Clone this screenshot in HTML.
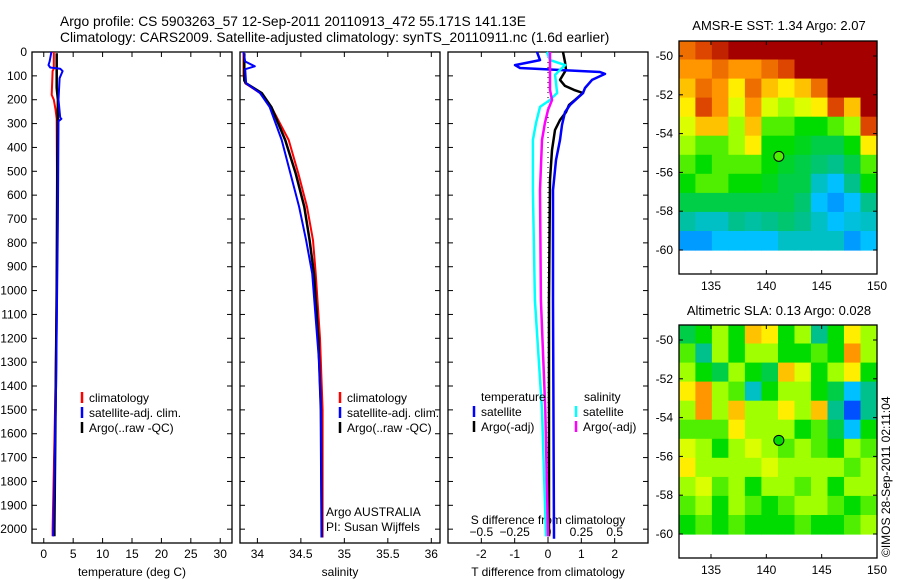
<!DOCTYPE html>
<html><head><meta charset="utf-8"><style>
body{margin:0;background:#fff;}
svg{display:block;font-family:"Liberation Sans",sans-serif;}
text{font-size:12px;fill:#000;}
text.ttl{font-size:13.8px;}
text.mttl{font-size:13px;}
</style></head><body>
<svg id="fig" width="900" height="580" viewBox="0 0 900 580">
<text class="ttl" x="60" y="26">Argo profile: CS 5903263_57 12-Sep-2011 20110913_472 55.171S 141.13E</text>
<text class="ttl" x="60" y="42">Climatology: CARS2009. Satellite-adjusted climatology: synTS_20110911.nc (1.6d earlier)</text>
<text class="mttl" x="779" y="30" text-anchor="middle">AMSR-E SST: 1.34 Argo: 2.07</text>
<text class="mttl" x="779" y="315" text-anchor="middle">Altimetric SLA: 0.13 Argo: 0.028</text>
<text transform="translate(890,557) rotate(-90)">©IMOS 28-Sep-2011 02:11:04</text>
<g id="g"></g>
</svg>
<script>
// ---- data ----
const depthTicks=[0,100,200,300,400,500,600,700,800,900,1000,1100,1200,1300,1400,1500,1600,1700,1800,1900,2000];
const tempTicks=[0,5,10,15,20,25,30];
const salTicks=[34,34.5,35,35.5,36];
const salTickLabels=["34","34.5","35","35.5","36"];
const tdiffTicks=[-2,-1,0,1,2];
const sdiffTicks=[-0.5,-0.25,0,0.25,0.5];
const lonTicks=[135,140,145,150];
const latTicks=[-50,-52,-54,-56,-58,-60];

const tClimDepth=[0,70,80,180,200,240,280,800,1400,2000,2030];
const tClim=[1.7,1.7,1.5,1.35,1.7,2.0,2.2,2.3,2.0,1.5,1.5];
const tSatDepth=[0,40,55,65,70,80,110,200,275,280,290,700,1400,2030];
const tSat=[1.3,1.0,0.8,1.1,2.8,3.2,2.7,2.5,2.8,3.0,2.5,2.4,2.1,1.6];
const tArgoDepth=[5,150,200,450,1000,2000,2030];
const tArgo=[2.2,2.2,2.4,2.3,2.2,1.8,1.8];

const sClimDepth=[0,100,131,172,230,369,509,649,789,928,1200,1500,2035];
const sClim=[33.84,33.84,33.86,34.03,34.16,34.36,34.47,34.57,34.64,34.67,34.72,34.75,34.75];
const sSatDepth=[0,40,60,72,131,172,230,369,509,649,789,928,1300,1500,2035];
const sSat=[33.84,33.86,33.97,33.86,33.87,34.03,34.14,34.28,34.38,34.48,34.56,34.63,34.71,34.73,34.74];
const sArgoDepth=[5,120,131,172,230,369,509,649,789,928,1200,1500,2035];
const sArgo=[33.85,33.85,33.87,34.05,34.16,34.32,34.44,34.54,34.6,34.65,34.7,34.73,34.74];

const dTSatDepth=[0,34,55,67,84,92,117,151,172,222,252,306,369,453,579,1040,2040];
const dTSat=[-0.33,-0.24,-0.99,-0.84,1.56,1.71,1.32,1.11,1.05,0.66,0.51,0.42,0.36,0.24,0.15,0.15,0.18];
const dTArgoDepth=[0,42,75,117,142,159,172,201,222,252,285,327,411,537,1040,2030];
const dTArgo=[0.45,0.51,0.54,0.36,0.51,0.78,1.05,0.81,0.63,0.54,0.36,0.21,0.12,0.06,0.03,0.03];
const dSSatDepth=[0,34,55,75,96,130,172,201,230,298,369,579,1040,1500,2030];
const dSSat=[-0.008,0.015,0.128,0.09,0.053,0.06,0.068,0.015,-0.06,-0.09,-0.113,-0.113,-0.098,-0.045,-0.015];
const dSArgoDepth=[0,159,201,243,298,369,579,1040,1500,2030];
const dSArgo=[0.015,0.015,0.03,0,-0.023,-0.045,-0.06,-0.053,-0.02,0];

const sstGrid=[
[0.85,0.9,0.95,1,1,1,1,1,1,1,1,1],
[0.8,0.8,0.85,0.8,0.8,0.85,0.9,1,1,1,1,1],
[0.75,0.85,0.8,0.7,0.85,0.75,0.7,0.75,0.85,1,1,1],
[0.7,0.9,0.8,0.65,0.8,0.65,0.6,0.65,0.7,0.9,0.75,1],
[0.65,0.75,0.75,0.6,0.75,0.55,0.55,0.5,0.5,0.55,0.6,0.9],
[0.6,0.55,0.55,0.6,0.7,0.5,0.5,0.48,0.45,0.45,0.5,0.7],
[0.55,0.5,0.55,0.55,0.55,0.5,0.47,0.45,0.42,0.4,0.45,0.55],
[0.5,0.55,0.55,0.5,0.5,0.48,0.45,0.45,0.35,0.3,0.4,0.5],
[0.45,0.45,0.45,0.45,0.45,0.45,0.45,0.42,0.3,0.25,0.3,0.4],
[0.38,0.35,0.35,0.4,0.38,0.4,0.42,0.4,0.35,0.3,0.33,0.35],
[0.25,0.25,0.3,0.3,0.3,0.3,0.35,0.35,0.35,0.35,0.25,0.3]];
const slaGrid=[
[0.45,0.5,0.6,0.5,0.75,0.7,0.5,0.6,0.4,0.5,0.7,0.6],
[0.55,0.4,0.6,0.5,0.6,0.6,0.5,0.5,0.55,0.5,0.8,0.6],
[0.6,0.5,0.45,0.6,0.5,0.45,0.75,0.65,0.5,0.6,0.7,0.5],
[0.7,0.8,0.6,0.55,0.35,0.5,0.6,0.6,0.5,0.45,0.3,0.4],
[0.6,0.8,0.6,0.75,0.6,0.6,0.7,0.6,0.75,0.4,0.15,0.4],
[0.55,0.55,0.55,0.7,0.6,0.6,0.6,0.5,0.55,0.45,0.3,0.5],
[0.65,0.6,0.5,0.6,0.65,0.6,0.55,0.6,0.55,0.5,0.6,0.55],
[0.7,0.6,0.6,0.6,0.6,0.65,0.6,0.6,0.6,0.6,0.55,0.6],
[0.6,0.65,0.55,0.6,0.5,0.6,0.6,0.55,0.6,0.5,0.6,0.6],
[0.55,0.6,0.5,0.6,0.55,0.5,0.55,0.6,0.6,0.55,0.5,0.55],
[0.5,0.55,0.5,0.55,0.5,0.5,0.5,0.55,0.5,0.5,0.55,0.6]];
const argoLon=141.13, argoLat=-55.171;

// ---- drawing ----
const NS="http://www.w3.org/2000/svg";
const G=document.getElementById('g');
function mk(tag,attrs,parent){const e=document.createElementNS(NS,tag);for(const k in attrs)e.setAttribute(k,attrs[k]);(parent||G).appendChild(e);return e;}
const TOP=52,BOT=543,DMAX=2058;
const yD=d=>TOP+d/DMAX*(BOT-TOP);
function lin(d0,d1,r0,r1){return v=>r0+(v-d0)/(d1-d0)*(r1-r0);}
const P=[{x0:32,x1:232},{x0:240,x1:440},{x0:448,x1:648}];
const xT=lin(-2,32,32,232), xS=lin(33.8,36.1,240,440), xdT=lin(-3,3,448,648), xdS=lin(-0.75,0.75,448,648);

function txt(x,y,s,anchor,name){const t=mk('text',{x:x,y:y,'text-anchor':anchor||'start'});t.textContent=s;

return t;}

P.forEach((p,i)=>{
  const r=mk('rect',{x:p.x0,y:TOP,width:p.x1-p.x0,height:BOT-TOP,fill:'none',stroke:'#000','stroke-width':1.3});
  
  
  depthTicks.forEach(d=>{const y=yD(d);
    mk('line',{x1:p.x0,x2:p.x0+5,y1:y,y2:y,stroke:'#000'});mk('line',{x1:p.x1-5,x2:p.x1,y1:y,y2:y,stroke:'#000'});});
});
depthTicks.forEach(d=>txt(27,yD(d)+4,String(d),'end','depth-tick-label'));
function xticks(p,vals,sc,labels,ly,name){vals.forEach((v,i)=>{const x=sc(v);
  mk('line',{x1:x,x2:x,y1:TOP,y2:TOP+5,stroke:'#000'});mk('line',{x1:x,x2:x,y1:BOT-5,y2:BOT,stroke:'#000'});
  txt(x,ly,labels?labels[i]:String(v),'middle',name);});}
xticks(P[0],tempTicks,xT,null,558,'temperature-tick-label');
xticks(P[1],salTicks,xS,salTickLabels,558,'salinity-tick-label');
xticks(P[2],tdiffTicks,xdT,null,558,'tdiff-tick-label');
sdiffTicks.forEach(v=>txt(xdS(v),536,String(v).replace('-0.','−0.'),'middle','sdiff-tick-label'));
txt(132,576,'temperature (deg C)','middle','x-axis-title-temperature');
txt(340,576,'salinity','middle','x-axis-title-salinity');
txt(548,576,'T difference from climatology','middle','x-axis-title-tdiff');
txt(548,524,'S difference from climatology','middle','s-diff-axis-title');
const zl=mk('line',{x1:xdT(0),x2:xdT(0),y1:TOP,y2:BOT,stroke:'#000','stroke-dasharray':'1,4'});



function series(depths,vals,sc,color,w,name){
  const pts=depths.map((d,i)=>sc(vals[i]).toFixed(1)+','+yD(d).toFixed(1)).join(' ');
  const e=mk('polyline',{points:pts,fill:'none',stroke:color,'stroke-width':w,'stroke-linejoin':'round'});
  
  
}
series(tClimDepth,tClim,xT,'#f00',2,'temp-climatology-line');
series(tArgoDepth,tArgo,xT,'#000',2.5,'temp-argo-line');
series(tSatDepth,tSat,xT,'#00f',2,'temp-satellite-line');
series(sClimDepth,sClim,xS,'#f00',2,'salinity-climatology-line');
series(sArgoDepth,sArgo,xS,'#000',2.5,'salinity-argo-line');
series(sSatDepth,sSat,xS,'#00f',2,'salinity-satellite-line');
series(dTArgoDepth,dTArgo,xdT,'#000',2.5,'tdiff-argo-line');
series(dTSatDepth,dTSat,xdT,'#00f',2.5,'tdiff-satellite-line');
series(dSSatDepth,dSSat,xdS,'#0ff',2.5,'sdiff-satellite-line');
series(dSArgoDepth,dSArgo,xdS,'#f0f',2.5,'sdiff-argo-line');

function legEntry(x,y,color,label,name){mk('line',{x1:x,x2:x,y1:y-10,y2:y+1,stroke:color,'stroke-width':2.5});txt(x+7,y,label,'start',name);}
[[82,'#f00','climatology'],[82,'#00f','satellite-adj. clim.'],[82,'#000','Argo(..raw -QC)']].forEach((e,i)=>legEntry(e[0],402+i*15,e[1],e[2],'temperature-legend-entry'));
[[340,'#f00','climatology'],[340,'#00f','satellite-adj. clim.'],[340,'#000','Argo(..raw -QC)']].forEach((e,i)=>legEntry(e[0],402+i*15,e[1],e[2],'salinity-legend-entry'));
txt(481,401,'temperature','start','diff-legend-temperature-header');
txt(584,401,'salinity','start','diff-legend-salinity-header');
legEntry(474,416,'#00f','satellite','diff-legend-entry');
legEntry(474,431,'#000','Argo(-adj)','diff-legend-entry');
legEntry(576,416,'#0ff','satellite','diff-legend-entry');
legEntry(576,431,'#f0f','Argo(-adj)','diff-legend-entry');
txt(326,516,'Argo AUSTRALIA','start','argo-agency-label');
txt(326,531,'PI: Susan Wijffels','start','pi-label');

// ---- maps ----
const stops=[[0,[0,0,160]],[0.15,[0,80,255]],[0.3,[0,192,255]],[0.4,[0,192,140]],[0.5,[0,220,0]],[0.6,[160,255,0]],[0.68,[255,255,0]],[0.8,[255,150,0]],[0.9,[220,70,0]],[1,[165,0,0]]];
function cmap(v){for(let i=1;i<stops.length;i++){if(v<=stops[i][0]){const a=stops[i-1],b=stops[i],t=(v-a[0])/(b[0]-a[0]);
 return 'rgb('+a[1].map((c,k)=>Math.round(c+t*(b[1][k]-c))).join(',')+')';}}return 'rgb(165,0,0)';}
const xLon=lin(135,150,711,877);
function drawMap(grid,top,name){
  const yLat=lin(-50,-60,top+15,top+209);
  const box={x0:679,x1:877,y0:top,y1:top+233};
  const lon0=132.1,lon1=150,lat0=-49.2,lat1=-60;
  const nr=grid.length,nc=grid[0].length;
  for(let r=0;r<nr;r++)for(let c=0;c<nc;c++){
    const x=xLon(lon0+(lon1-lon0)*c/nc),x2=xLon(lon0+(lon1-lon0)*(c+1)/nc);
    const y=yLat(lat0+(lat1-lat0)*r/nr),y2=yLat(lat0+(lat1-lat0)*(r+1)/nr);
    const e=mk('rect',{x:x.toFixed(1),y:y.toFixed(1),width:(x2-x+0.6).toFixed(1),height:(y2-y+0.6).toFixed(1),fill:cmap(grid[r][c])});
    
    
  }
  const b=mk('rect',{x:box.x0,y:box.y0,width:box.x1-box.x0,height:box.y1-box.y0,fill:'none',stroke:'#000','stroke-width':1.3});
  
  
  lonTicks.forEach(v=>{const x=xLon(v);mk('line',{x1:x,x2:x,y1:box.y0,y2:box.y0+4,stroke:'#000'});mk('line',{x1:x,x2:x,y1:box.y1-4,y2:box.y1,stroke:'#000'});
    txt(x,box.y1+16,String(v),'middle',name+'-lon-tick-label');});
  latTicks.forEach(v=>{const y=yLat(v);mk('line',{x1:box.x0,x2:box.x0+4,y1:y,y2:y,stroke:'#000'});mk('line',{x1:box.x1-4,x2:box.x1,y1:y,y2:y,stroke:'#000'});
    txt(673,y+4,String(v),'end',name+'-lat-tick-label');});
  const m=mk('circle',{cx:xLon(argoLon),cy:yLat(argoLat),r:5,fill:cmap(grid===sstGrid?0.55:0.5),stroke:'#000','stroke-width':1});
  
  
}
drawMap(sstGrid,41,'sst-map');
drawMap(slaGrid,325,'sla-map');
</script>
</body></html>
